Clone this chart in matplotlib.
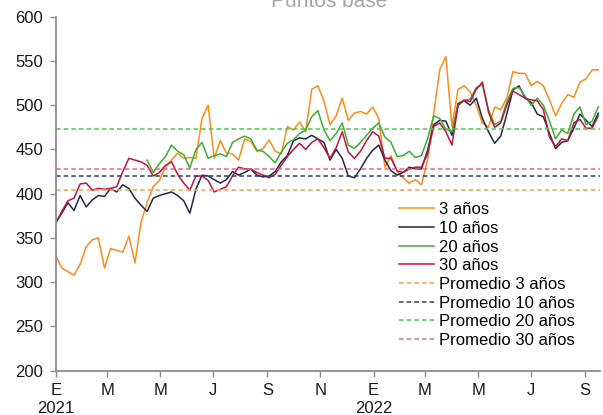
import matplotlib
matplotlib.use('Agg')
import matplotlib.pyplot as plt
import matplotlib.dates as mdates
import matplotlib.ticker as mticker
import numpy as np
import pandas as pd

plt.rcParams['font.family'] = ['Liberation Sans', 'DejaVu Sans']

# Fechas semanales (lecturas del gráfico)
fechas = pd.date_range('2021-01-01', periods=90, freq='7D')

# Spread en puntos base por plazo
tres_anos = [330, 316, 312, 308, 320, 340, 348, 350, 316, 338,
             336, 334, 352, 322, 368, 390, 408, 415, 430, 438,
             446, 440, 441, 440, 485, 500, 440, 460, 446, 445,
             438, 462, 459, 448, 451, 461, 448, 445, 476, 472,
             481, 470, 518, 522, 505, 478, 488, 508, 483, 491,
             493, 490, 498, 485, 430, 443, 425, 418, 412, 416,
             410, 438, 490, 540, 555, 476, 518, 522, 515, 500,
             480, 475, 498, 495, 508, 538, 536, 536, 522, 527,
             522, 506, 488, 502, 512, 509, 526, 530, 540, 540]
diez_anos = [367, 378, 390, 381, 398, 385, 393, 398, 397, 406,
             402, 410, 406, 395, 387, 380, 395, 398, 400, 402,
             398, 392, 378, 405, 421, 420, 416, 412, 416, 425,
             421, 424, 428, 421, 419, 420, 425, 436, 443, 460,
             463, 462, 466, 462, 458, 438, 450, 440, 420, 418,
             428, 440, 449, 455, 438, 426, 421, 424, 430, 428,
             428, 449, 478, 483, 482, 466, 502, 505, 500, 508,
             485, 470, 457, 465, 490, 517, 522, 508, 503, 490,
             487, 468, 451, 458, 460, 474, 490, 483, 476, 491]
# la serie de 20 años empieza en abril de 2021
veinte_anos = [np.nan] * 15 + [
             438, 424, 434, 442, 455, 448, 444, 429, 450, 458,
             440, 443, 445, 442, 458, 462, 465, 462, 449, 448,
             442, 435, 447, 457, 461, 468, 472, 487, 494, 472,
             460, 468, 480, 455, 451, 458, 466, 474, 480, 464,
             458, 442, 443, 448, 441, 443, 462, 488, 485, 473,
             470, 500, 505, 507, 520, 523, 495, 478, 482, 504,
             519, 520, 510, 500, 508, 500, 482, 462, 472, 468,
             490, 498, 478, 482, 498]
treinta_anos = [367, 380, 392, 395, 411, 412, 404, 406, 405, 406,
                408, 425, 440, 438, 436, 432, 420, 424, 432, 436,
                422, 412, 404, 420, 420, 415, 402, 405, 408, 420,
                430, 428, 428, 424, 421, 418, 422, 432, 442, 450,
                457, 450, 458, 462, 452, 440, 452, 470, 447, 440,
                448, 460, 470, 465, 440, 440, 426, 424, 428, 430,
                430, 445, 476, 480, 470, 455, 500, 506, 504, 518,
                526, 492, 475, 480, 500, 516, 512, 508, 506, 505,
                495, 464, 453, 462, 460, 480, 484, 474, 474, 488]

# Promedios
promedios = [404, 420, 473, 428]

series = [tres_anos, diez_anos, veinte_anos, treinta_anos]
nombres = ['3 años', '10 años', '20 años', '30 años']
colores = ['#FF8C1A', '#1C2B4A', '#3CB035', '#C3123F']
colores_prom = ['#FFA04A', '#2F3D5E', '#52C452', '#E2668A']

fig = plt.figure(figsize=(6.03, 4.15), dpi=100)
ax = fig.add_axes([0.0924, 0.1067, 0.9026, 0.853])

for datos, nombre, color in zip(series, nombres, colores):
    ax.plot(fechas, datos, color=color, lw=1.1, label=nombre)

for valor, nombre, color in zip(promedios, nombres, colores_prom):
    ax.axhline(valor, color=color, lw=1.1, dashes=(3, 2),
               label='Promedio ' + nombre)

ax.set_ylim(200, 600)
ax.set_xlim(pd.Timestamp('2021-01-01'), pd.Timestamp('2022-09-18'))
ax.yaxis.set_major_locator(mticker.MultipleLocator(50))

letras = {1: 'E', 3: 'M', 5: 'M', 7: 'J', 9: 'S', 11: 'N'}


def etiqueta(x, pos):
    d = mdates.num2date(x)
    txt = letras[d.month]
    if d.month == 1:
        txt += '\n' + str(d.year)
    return txt


ax.xaxis.set_major_locator(mdates.MonthLocator(bymonth=[1, 3, 5, 7, 9, 11]))
ax.xaxis.set_major_formatter(mticker.FuncFormatter(etiqueta))

for lado in ['top', 'right']:
    ax.spines[lado].set_visible(False)
for lado in ['left', 'bottom']:
    ax.spines[lado].set_color('#8C8C8C')
    ax.spines[lado].set_linewidth(1.3)
ax.tick_params(axis='both', direction='out', length=4, width=1,
               color='#8C8C8C', labelsize=12, labelcolor='#1a1a1a')
ax.tick_params(axis='y', pad=5)
ax.tick_params(axis='x', pad=5)

ax.legend(loc='upper left', bbox_to_anchor=(0.631, 0.476), frameon=False,
          fontsize=12, handlelength=2.1, handletextpad=0.3,
          labelspacing=0.22, borderaxespad=0, borderpad=0)

fig.text(0.545, 0.983, 'Puntos base', ha='center', va='baseline',
         fontsize=15, color='#A6A6A6')

fig.savefig('out.png', dpi=100)
